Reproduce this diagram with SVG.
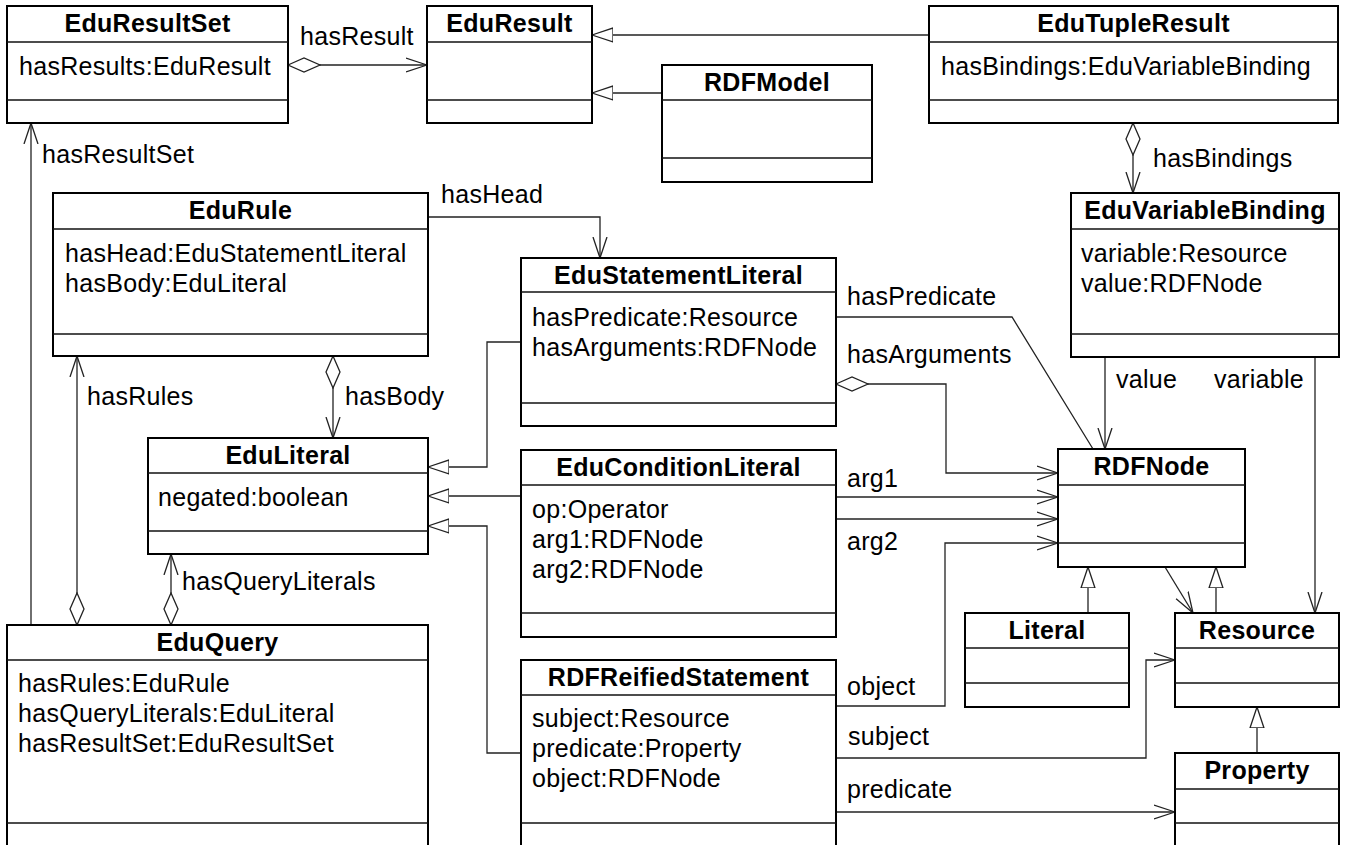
<svg xmlns="http://www.w3.org/2000/svg" width="1349" height="845" viewBox="0 0 1349 845">
<style>
.box{fill:#fff;stroke:#000;stroke-width:2}
.div{stroke:#111;stroke-width:1.4}
.t{font-family:"Liberation Sans",Arial,sans-serif;font-size:25px;letter-spacing:0.3px;fill:#000}
.b{font-weight:bold;text-anchor:middle}
.c{fill:none;stroke:#222;stroke-width:1.3}
</style>
<defs>
<marker id="arrow" viewBox="0 0 22 16" refX="21" refY="8" markerWidth="22" markerHeight="16" markerUnits="userSpaceOnUse" orient="auto"><path d="M0,1 L21,8 L0,15" fill="none" stroke="#222" stroke-width="1.3"/></marker>
<marker id="tri" viewBox="0 0 22 16" refX="21" refY="8" markerWidth="22" markerHeight="16" markerUnits="userSpaceOnUse" orient="auto"><path d="M0,1 L21,8 L0,15 Z" fill="#fff" stroke="#222" stroke-width="1.3"/></marker>
<marker id="dia" viewBox="0 0 34 16" refX="1" refY="8" markerWidth="34" markerHeight="16" markerUnits="userSpaceOnUse" orient="auto"><path d="M1,8 L17,1 L33,8 L17,15 Z" fill="#fff" stroke="#222" stroke-width="1.3"/></marker>
</defs>
<g id="connectors">
<path class="c" d="M288,65 H427" marker-start="url(#dia)" marker-end="url(#arrow)"/>
<path class="c" d="M929,35 H592" marker-end="url(#tri)"/>
<path class="c" d="M662,93 H592" marker-end="url(#tri)"/>
<path class="c" d="M1133,123 V193" marker-start="url(#dia)" marker-end="url(#arrow)"/>
<path class="c" d="M31,625 V123" marker-end="url(#arrow)"/>
<path class="c" d="M77,625 V356" marker-start="url(#dia)" marker-end="url(#arrow)"/>
<path class="c" d="M171,625 V554" marker-start="url(#dia)" marker-end="url(#arrow)"/>
<path class="c" d="M333,356 V438" marker-start="url(#dia)" marker-end="url(#arrow)"/>
<path class="c" d="M428,217 H600 V258" marker-end="url(#arrow)"/>
<path class="c" d="M521,342 H487 V467 H428" marker-end="url(#tri)"/>
<path class="c" d="M521,496 H428" marker-end="url(#tri)"/>
<path class="c" d="M521,753 H487 V526 H428" marker-end="url(#tri)"/>
<path class="c" d="M836,317 H1012 L1093,449"/>
<path class="c" d="M836,384 H946 V473 H1058" marker-start="url(#dia)" marker-end="url(#arrow)"/>
<path class="c" d="M836,497 H1058" marker-end="url(#arrow)"/>
<path class="c" d="M836,519 H1058" marker-end="url(#arrow)"/>
<path class="c" d="M836,706 H945 V543 H1058" marker-end="url(#arrow)"/>
<path class="c" d="M1105,357 V449" marker-end="url(#arrow)"/>
<path class="c" d="M1315,357 V613" marker-end="url(#arrow)"/>
<path class="c" d="M1088,613 V567" marker-end="url(#tri)"/>
<path class="c" d="M1216,613 V567" marker-end="url(#tri)"/>
<path class="c" d="M1165,567 L1193,613" marker-end="url(#arrow)"/>
<path class="c" d="M836,758 H1146 V660 H1175" marker-end="url(#arrow)"/>
<path class="c" d="M836,812 H1175" marker-end="url(#arrow)"/>
<path class="c" d="M1257,753 V707" marker-end="url(#tri)"/>
<g class="t">
<text x="300" y="45">hasResult</text>
<text x="1153" y="167">hasBindings</text>
<text x="42" y="163">hasResultSet</text>
<text x="87" y="405">hasRules</text>
<text x="345" y="405">hasBody</text>
<text x="182" y="590">hasQueryLiterals</text>
<text x="441" y="203">hasHead</text>
<text x="847" y="305">hasPredicate</text>
<text x="847" y="363">hasArguments</text>
<text x="847" y="487">arg1</text>
<text x="847" y="550">arg2</text>
<text x="847" y="695">object</text>
<text x="848" y="745">subject</text>
<text x="847" y="798">predicate</text>
<text x="1116" y="388">value</text>
<text x="1214" y="388">variable</text>
</g>
</g>
<g id="EduResultSet">
<rect class="box" x="7" y="6" width="281" height="117"/>
<line class="div" x1="7" y1="42" x2="288" y2="42"/><line class="div" x1="7" y1="100" x2="288" y2="100"/>
<text class="t b" x="147.5" y="32">EduResultSet</text>
<text class="t" x="19" y="75">hasResults:EduResult</text>
</g>
<g id="EduResult">
<rect class="box" x="427" y="6" width="165" height="117"/>
<line class="div" x1="427" y1="42" x2="592" y2="42"/><line class="div" x1="427" y1="100" x2="592" y2="100"/>
<text class="t b" x="509.5" y="32">EduResult</text>
</g>
<g id="RDFModel">
<rect class="box" x="662" y="65" width="210" height="117"/>
<line class="div" x1="662" y1="100" x2="872" y2="100"/><line class="div" x1="662" y1="158" x2="872" y2="158"/>
<text class="t b" x="767" y="91">RDFModel</text>
</g>
<g id="EduTupleResult">
<rect class="box" x="929" y="6" width="409" height="117"/>
<line class="div" x1="929" y1="42" x2="1338" y2="42"/><line class="div" x1="929" y1="100" x2="1338" y2="100"/>
<text class="t b" x="1133.5" y="32">EduTupleResult</text>
<text class="t" x="941" y="75">hasBindings:EduVariableBinding</text>
</g>
<g id="EduRule">
<rect class="box" x="53" y="193" width="375" height="163"/>
<line class="div" x1="53" y1="229" x2="428" y2="229"/><line class="div" x1="53" y1="334" x2="428" y2="334"/>
<text class="t b" x="240.5" y="219">EduRule</text>
<text class="t" x="65" y="262">hasHead:EduStatementLiteral</text>
<text class="t" x="65" y="292">hasBody:EduLiteral</text>
</g>
<g id="EduVariableBinding">
<rect class="box" x="1071" y="193" width="268" height="164"/>
<line class="div" x1="1071" y1="229" x2="1339" y2="229"/><line class="div" x1="1071" y1="334" x2="1339" y2="334"/>
<text class="t b" x="1205" y="219">EduVariableBinding</text>
<text class="t" x="1081" y="262">variable:Resource</text>
<text class="t" x="1081" y="292">value:RDFNode</text>
</g>
<g id="EduStatementLiteral">
<rect class="box" x="521" y="258" width="315" height="168"/>
<line class="div" x1="521" y1="292" x2="836" y2="292"/><line class="div" x1="521" y1="403" x2="836" y2="403"/>
<text class="t b" x="678.5" y="284">EduStatementLiteral</text>
<text class="t" x="532" y="326">hasPredicate:Resource</text>
<text class="t" x="532" y="356">hasArguments:RDFNode</text>
</g>
<g id="EduLiteral">
<rect class="box" x="148" y="438" width="280" height="116"/>
<line class="div" x1="148" y1="473" x2="428" y2="473"/><line class="div" x1="148" y1="531" x2="428" y2="531"/>
<text class="t b" x="288" y="464">EduLiteral</text>
<text class="t" x="158" y="506">negated:boolean</text>
</g>
<g id="EduConditionLiteral">
<rect class="box" x="521" y="450" width="315" height="187"/>
<line class="div" x1="521" y1="485" x2="836" y2="485"/><line class="div" x1="521" y1="613" x2="836" y2="613"/>
<text class="t b" x="678.5" y="476">EduConditionLiteral</text>
<text class="t" x="532" y="518">op:Operator</text>
<text class="t" x="532" y="548">arg1:RDFNode</text>
<text class="t" x="532" y="578">arg2:RDFNode</text>
</g>
<g id="RDFNode">
<rect class="box" x="1058" y="449" width="187" height="118"/>
<line class="div" x1="1058" y1="485" x2="1245" y2="485"/><line class="div" x1="1058" y1="543" x2="1245" y2="543"/>
<text class="t b" x="1151.5" y="475">RDFNode</text>
</g>
<g id="Literal">
<rect class="box" x="965" y="613" width="164" height="94"/>
<line class="div" x1="965" y1="648" x2="1129" y2="648"/><line class="div" x1="965" y1="683" x2="1129" y2="683"/>
<text class="t b" x="1047" y="639">Literal</text>
</g>
<g id="Resource">
<rect class="box" x="1175" y="613" width="164" height="94"/>
<line class="div" x1="1175" y1="648" x2="1339" y2="648"/><line class="div" x1="1175" y1="683" x2="1339" y2="683"/>
<text class="t b" x="1257" y="639">Resource</text>
</g>
<g id="RDFReifiedStatement">
<rect class="box" x="521" y="660" width="315" height="200"/>
<line class="div" x1="521" y1="695" x2="836" y2="695"/><line class="div" x1="521" y1="823" x2="836" y2="823"/>
<text class="t b" x="678.5" y="686">RDFReifiedStatement</text>
<text class="t" x="532" y="727">subject:Resource</text>
<text class="t" x="532" y="757">predicate:Property</text>
<text class="t" x="532" y="787">object:RDFNode</text>
</g>
<g id="EduQuery">
<rect class="box" x="7" y="625" width="421" height="235"/>
<line class="div" x1="7" y1="660" x2="428" y2="660"/><line class="div" x1="7" y1="823" x2="428" y2="823"/>
<text class="t b" x="217.5" y="651">EduQuery</text>
<text class="t" x="18" y="692">hasRules:EduRule</text>
<text class="t" x="18" y="722">hasQueryLiterals:EduLiteral</text>
<text class="t" x="18" y="752">hasResultSet:EduResultSet</text>
</g>
<g id="Property">
<rect class="box" x="1175" y="753" width="164" height="110"/>
<line class="div" x1="1175" y1="789" x2="1339" y2="789"/><line class="div" x1="1175" y1="823" x2="1339" y2="823"/>
<text class="t b" x="1257" y="779">Property</text>
</g>
</svg>
